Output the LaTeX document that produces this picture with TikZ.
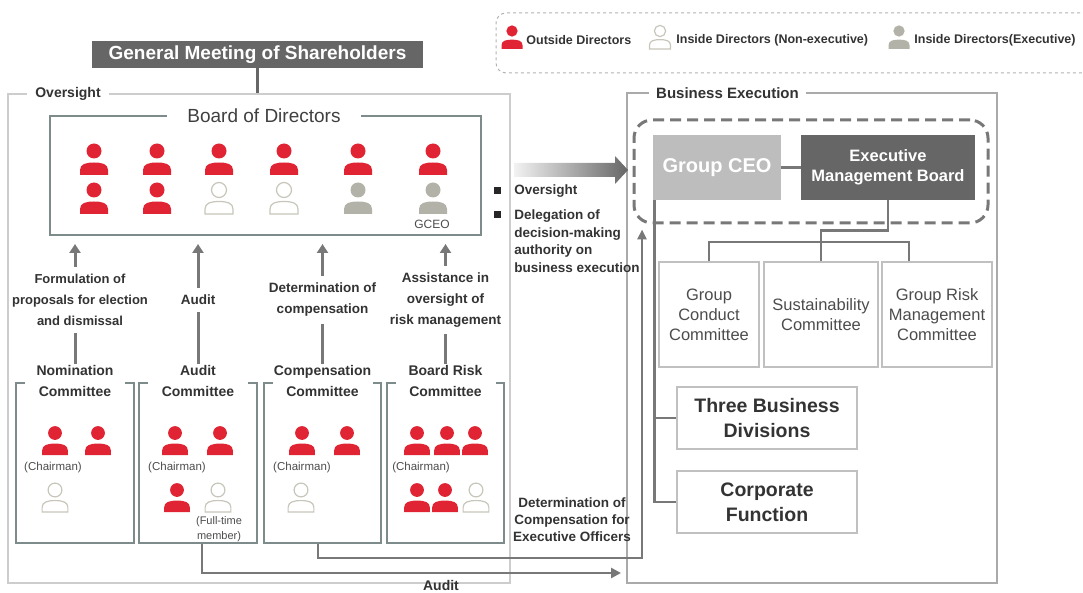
\documentclass[tikz,border=0pt]{standalone}
\usepackage{fontspec}
\setmainfont{Liberation Sans}
\usetikzlibrary{arrows.meta,positioning}
\definecolor{odred}{RGB}{224,36,52}
\definecolor{exgray}{RGB}{178,178,168}
\definecolor{idline}{RGB}{200,198,186}
\definecolor{bordgreen}{RGB}{125,140,138}
\definecolor{gmgray}{RGB}{102,102,102}
\definecolor{ceogray}{RGB}{189,189,189}
\definecolor{arrgray}{RGB}{120,120,120}
\definecolor{ovsline}{RGB}{205,205,205}
\definecolor{bexline}{RGB}{170,170,170}
\definecolor{rcline}{RGB}{192,192,192}
\definecolor{txt}{RGB}{51,51,51}

\begin{document}
\begin{tikzpicture}[x=1pt,y=-1pt,>={Triangle[width=11pt,length=9pt]},thick]
	\tikzstyle{outdir}=[fill=odred]
	\tikzstyle{indir}=[draw=idline,fill=white,line width=1.2pt]
	\tikzstyle{exdir}=[fill=exgray]
	\tikzset{pics/person/.style={code={
		\path[pic actions] (0,0) circle (7.5pt);
		\path[pic actions] (-14,24) -- (-14,19) .. controls (-14,13) and (-8,11.5) .. (0,11.5)
			.. controls (8,11.5) and (14,13) .. (14,19) -- (14,24) -- cycle;
	}}}
	\tikzstyle{outerbox}=[draw=ovsline,line width=1.3pt,inner sep=0pt]
	\tikzstyle{boxlbl}=[fill=white,text=txt,font=\fontsize{14}{16}\selectfont\bfseries,inner xsep=8pt,inner ysep=0pt]
	\tikzstyle{boardbox}=[draw=bordgreen,line width=2pt,inner sep=0pt]
	\tikzstyle{cbox}=[boardbox,minimum height=160pt]
	\tikzstyle{clbl}=[fill=white,text=txt,align=center,minimum width=100pt,inner sep=1pt,
		font=\fontsize{14}{21}\selectfont\bfseries]
	\tikzstyle{lbl}=[text=txt,align=center,inner sep=0pt,font=\fontsize{13.5}{21}\selectfont\bfseries]
	\tikzstyle{arrlbl}=[lbl,fill=white,inner xsep=1pt,inner ysep=7pt]
	\tikzstyle{up}=[->,draw=arrgray,line width=3pt,shorten >=8pt]
	\tikzstyle{arr}=[->,>={Triangle[width=10pt,length=10pt]},draw=arrgray,line width=2.5pt]
	\tikzstyle{ln}=[draw=arrgray,line width=2.5pt]
	\tikzstyle{small}=[text=black!70,inner sep=0pt,font=\fontsize{11.5}{15}\selectfont]
	\tikzstyle{legtxt}=[text=txt,inner sep=0pt,font=\fontsize{12.5}{15}\selectfont\bfseries]
	\tikzstyle{rcbox}=[draw=rcline,line width=2pt,minimum height=105pt,align=center,inner sep=0pt,
		text=black!70,font=\fontsize{16.5}{20}\selectfont]
	\tikzstyle{divbox}=[draw=rcline,line width=2pt,minimum width=180pt,minimum height=62pt,align=center,
		inner sep=0pt,text=txt,font=\fontsize{19.5}{25}\selectfont\bfseries]
	\tikzstyle{bul}=[fill=black!85,minimum size=7pt,inner sep=0pt]
	\tikzstyle{bultxt}=[text=txt,align=left,inner sep=0pt,font=\fontsize{13.5}{17.5}\selectfont\bfseries]

\useasboundingbox (0,0) rectangle (1083,593);
\clip (0,0) rectangle (1083,593);

% legend
\node[draw=black!30,dashed,line width=1pt,rounded corners=10pt,minimum width=600pt,minimum height=60pt] (leg) at (796,43) {};
\pic[outdir,scale=0.75] at (512,31) {person};
\node[legtxt,anchor=west] (legod) at (526,40) {Outside Directors};
\pic[indir,scale=0.75] at (660,31) {person};
\node[legtxt,anchor=west] (legid) at (676,40) {Inside Directors (Non-executive)};
\pic[exdir,scale=0.75] at (899,31) {person};
\node[legtxt,anchor=west] (leged) at (914,40) {Inside Directors(Executive)};

% oversight side
\node[fill=gmgray,text=white,minimum width=331pt,minimum height=27pt,inner sep=0pt,
	font=\fontsize{19}{22}\selectfont\bfseries] (gm) at (257.5,54.5) {General Meeting of Shareholders};
\node[outerbox,minimum width=502pt,minimum height=489pt] (ovs) at (259,338.5) {};
\node[boxlbl] (ovslbl) at (68,94) {Oversight};
\draw[ln,line width=3pt,draw=gmgray] (gm.south) -- (gm.south |- ovs.north);

\node[boardbox,minimum width=431pt,minimum height=119pt] (board) at (265.5,175.5) {};
\node[fill=white,text=black!75,inner xsep=20pt,inner ysep=0pt,font=\fontsize{19}{22}\selectfont] (boardlbl) at (264,116) {Board of Directors};
\foreach \x in {94,157,219,284,358,433}
	\pic[outdir] at (\x,151) {person};
\foreach \x/\c in {94/outdir,157/outdir,219/indir,284/indir,358/exdir,433/exdir}
	\pic[\c] at (\x,190) {person};
\node[small,font=\fontsize{12}{15}\selectfont] (gceolbl) at (432,224) {GCEO};

% committees
\node[cbox,minimum width=118pt] (nombox) at (75,463) {};
\node[cbox,minimum width=118pt] (audbox) at (198,463) {};
\node[cbox,minimum width=117pt] (compbox) at (322.5,463) {};
\node[cbox,minimum width=117pt] (brcbox) at (445.5,463) {};
\node[clbl] (nom) at (75,381) {Nomination\\Committee};
\node[clbl] (aud) at (198,381) {Audit\\Committee};
\node[clbl] (comp) at (322.5,381) {Compensation\\Committee};
\node[clbl] (brc) at (445.5,381) {Board Risk\\Committee};

\draw[up] (nom) -- node[arrlbl,xshift=5pt,font=\fontsize{13}{21}\selectfont\bfseries]{Formulation of\\proposals for election\\and dismissal} (nom |- board.south);
\draw[up] (aud) -- node[arrlbl]{Audit} (aud |- board.south);
\draw[up] (comp) -- node[arrlbl]{Determination of\\compensation} (comp |- board.south);
\draw[up] (brc) -- node[arrlbl]{Assistance in\\oversight of\\risk management} (brc |- board.south);

\foreach \x/\y/\c in {55/433/outdir,98/433/outdir,55/490/indir,
	175/433/outdir,220/433/outdir,177/490/outdir,218/490/indir,
	302/433/outdir,347/433/outdir,301/490/indir,
	417/433/outdir,447/433/outdir,475/433/outdir,417/490/outdir,445/490/outdir,476/490/indir}
	\pic[\c,scale=0.92] at (\x,\y) {person};
\node[small] (ch1) at (53,468) {(Chairman)};
\node[small] (ch2) at (177,468) {(Chairman)};
\node[small] (ch3) at (302,468) {(Chairman)};
\node[small] (ch4) at (421,468) {(Chairman)};
\node[small,align=center,font=\fontsize{11}{15}\selectfont] (fulltime) at (219,529.5) {(Full-time\\member)};

% business execution side
\node[draw=bexline,line width=2pt,minimum width=370pt,minimum height=490pt,inner sep=0pt] (bex) at (812,338) {};
\node[boxlbl,font=\fontsize{15}{17}\selectfont\bfseries,inner xsep=7pt] (bexlbl) at (727.5,93) {Business Execution};

\node[draw=arrgray,line width=3pt,dash pattern=on 11pt off 6pt,rounded corners=18pt,
	minimum width=354pt,minimum height=103pt] (grp) at (811,171.5) {};
\node[fill=ceogray,text=white,minimum width=128pt,minimum height=65pt,inner sep=0pt,
	font=\fontsize{20}{24}\selectfont\bfseries] (gceo) at (717,167.5) {Group CEO};
\node[fill=gmgray,text=white,minimum width=174pt,minimum height=65pt,inner sep=0pt,align=center,
	font=\fontsize{16.5}{20}\selectfont\bfseries] (emb) at (888,167.5) {Executive\\Management Board};
\draw[ln] (gceo) -- (emb);

\node[rcbox,minimum width=100pt] (gcc) at (709,314.5) {Group\\Conduct\\Committee};
\node[rcbox,minimum width=114pt] (sust) at (821,314.5) {Sustainability\\Committee};
\node[rcbox,minimum width=110pt] (grmc) at (937,314.5) {Group Risk\\Management\\Committee};
\coordinate (bus) at (821,242);
\draw[ln] (emb.south) -- ++(0,30) -| (bus);
\draw[ln] (gcc.north) |- (bus) -| ([xshift=-28pt]grmc.north);
\draw[ln] (bus) -- (sust.north);

\node[divbox] (tbd) at (767,418) {Three Business\\Divisions};
\node[divbox] (corp) at (767,502) {Corporate\\Function};
\draw[ln] ([xshift=2pt]gceo.south west) |- (tbd.west);
\draw[ln] ([xshift=2pt]gceo.south west) |- (corp.west);

% oversight arrow and bullets
\shade[left color=black!5,right color=black!60] (514,163) -- (615,163) -- (615,156) -- (628,170)
	-- (615,184) -- (615,177) -- (514,177) -- cycle;
\node[bul] (b1) at (497,191) {};
\node[bultxt,anchor=west] (b1txt) at (514,191) {Oversight};
\node[bul] (b2) at (497,215) {};
\node[bultxt,anchor=north west] (b2txt) at (514,209.5) {Delegation of\\decision-making\\authority on\\business execution};

% bottom connectors
\coordinate (audend) at (621,573);
\draw[arr] ([xshift=4pt]audbox.south) |- (audend);
\node[lbl,font=\fontsize{14}{16}\selectfont\bfseries] (audtxt) at (441,585) {Audit};
\coordinate (compturn) at (642,558);
\draw[arr,>={Triangle[width=9pt,length=10pt]},shorten >=5pt] ([xshift=-4.5pt]compbox.south) |- (compturn) -- (compturn |- grp.south);
\node[lbl,font=\fontsize{13.5}{17}\selectfont\bfseries] (comptxt) at (572,520) {Determination of\\Compensation for\\Executive Officers};

\end{tikzpicture}
\end{document}
